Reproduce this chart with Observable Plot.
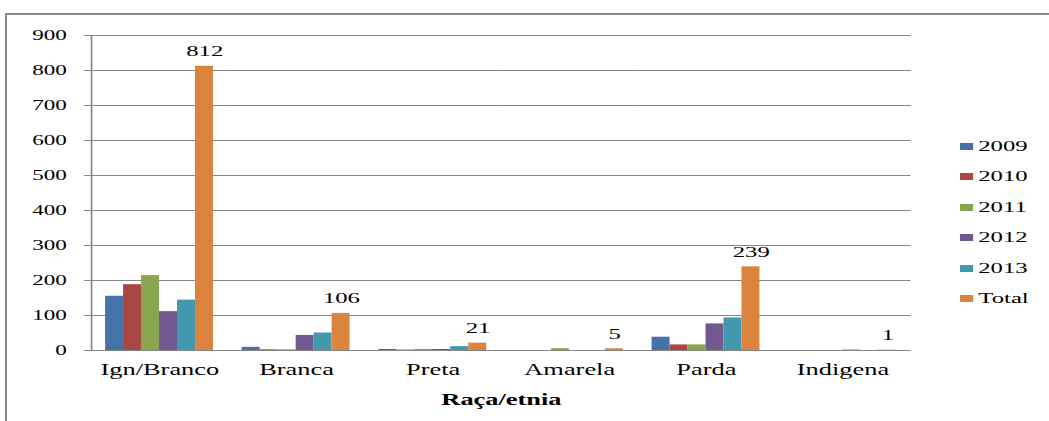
<!DOCTYPE html>
<html><head><meta charset="utf-8">
<script src="https://cdn.jsdelivr.net/npm/d3@7"></script>
<script src="https://cdn.jsdelivr.net/npm/@observablehq/plot@0.6"></script>
<style>
body{margin:0;background:#fff;overflow:hidden;}
#stretch{position:absolute;left:0;top:0;width:636px;height:421px;transform:scaleX(1.6494);transform-origin:0 0;}
#stretch svg{position:absolute;left:0;top:0;background:transparent;}
#frame{position:absolute;left:5px;top:13px;width:1050px;height:420px;border-top:2px solid #8c8c8c;border-left:2px solid #8c8c8c;box-sizing:border-box;}
#legend{position:absolute;left:581.6px;top:131px;font-family:"Liberation Serif","Times New Roman",serif;font-size:15px;color:#000;}
#legend .row{height:30.5px;display:flex;align-items:center;}
#legend .sw{width:8px;height:7px;margin-right:3.5px;}
svg [aria-label="fx-axis label"] text{font-weight:bold;}
</style>
</head><body>
<div id="stretch"></div>
<div id="frame"></div>
<script>
const categories = ["Ign/Branco","Branca","Preta","Amarela","Parda","Indigena"];
const series = ["2009","2010","2011","2012","2013","Total"];
const v2009  = [155,  9,  3, 0,  38, 0];
const v2010  = [188,  2,  1, 0,  16, 0];
const v2011  = [214,  2,  3, 5,  16, 0];
const v2012  = [111, 43,  3, 0,  76, 1];
const v2013  = [144, 50, 11, 0,  93, 0];
const vTotal = [812,106, 21, 5, 239, 1];
const yTicks = [0,100,200,300,400,500,600,700,800,900];
const colors = ["#4572A7","#AA4643","#89A54E","#71588F","#4198AF","#DB843D"];

const values = [v2009, v2010, v2011, v2012, v2013, vTotal];
const data = [];
categories.forEach((c, i) => series.forEach((s, j) => data.push({cat: c, series: s, value: values[j][i]})));

const chart = Plot.plot({
  width: 636, height: 421,
  marginLeft: 55, marginRight: 84, marginTop: 35, marginBottom: 71,
  style: {fontFamily: "'Liberation Serif','Times New Roman',serif", background: "transparent", color: "#000"},
  fx: {domain: categories, padding: 0, round: false},
  x: {domain: series, paddingInner: 0, paddingOuter: 0.8, round: false, axis: null},
  y: {domain: [0, 900]},
  color: {domain: series, range: colors},
  marks: [
    Plot.gridY(yTicks, {stroke: "#868686", strokeOpacity: 1}),
    Plot.barY(data, {fx: "cat", x: "series", y: "value", fill: "series"}),
    Plot.text(data.filter(d => d.series === "Total"), {fx: "cat", x: "series", y: "value", text: d => String(d.value), lineAnchor: "bottom", dy: -10, fontSize: 15}),
    Plot.ruleY([0], {stroke: "#868686"}),
    Plot.frame({anchor: "left", stroke: "#868686", strokeOpacity: 1, facetAnchor: "left"}),
    Plot.axisY({ticks: yTicks, tickSize: 4, tickPadding: 11, fontSize: 14, label: null, stroke: "#868686"}),
    Plot.axisFx({anchor: "bottom", tickSize: 0, tickPadding: 13, fontSize: 16, label: "Raça/etnia", labelAnchor: "center", labelOffset: 54})
  ]
});
chart.setAttribute("preserveAspectRatio", "none");
chart.style.maxWidth = "none";
chart.style.width = "636px";
chart.style.height = "421px";
const host = document.getElementById("stretch");
host.appendChild(chart);

const legend = document.createElement("div");
legend.id = "legend";
series.forEach((s, j) => {
  const row = document.createElement("div");
  row.className = "row";
  const sw = document.createElement("div");
  sw.className = "sw";
  sw.style.background = colors[j];
  const t = document.createElement("span");
  t.textContent = s;
  row.appendChild(sw); row.appendChild(t);
  legend.appendChild(row);
});
host.appendChild(legend);
</script>
</body></html>
